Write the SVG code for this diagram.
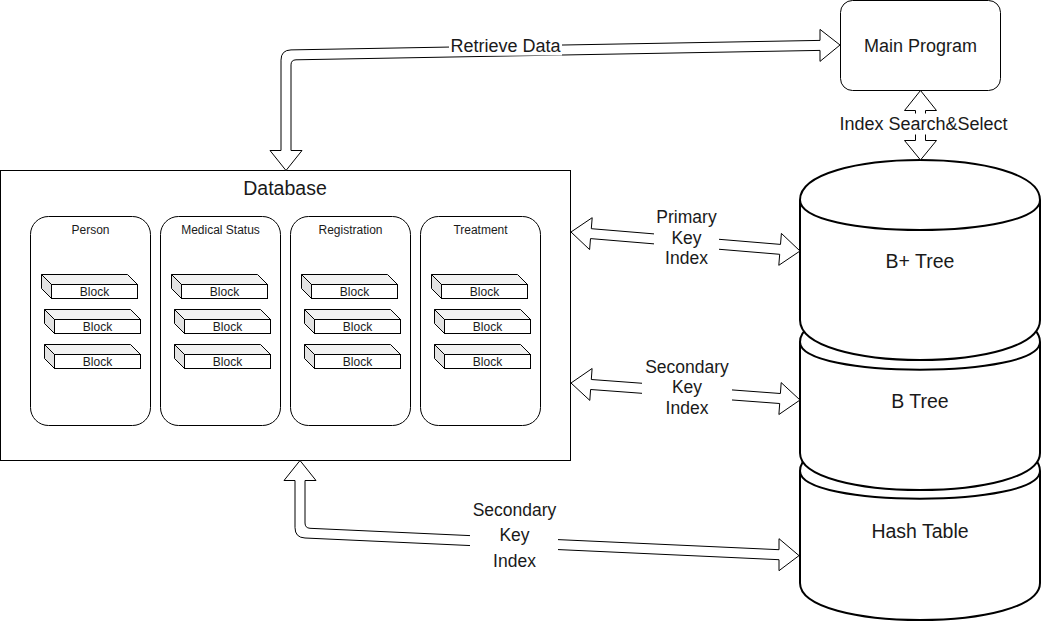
<svg xmlns="http://www.w3.org/2000/svg" xmlns:xlink="http://www.w3.org/1999/xlink" width="1042" height="622" viewBox="0 0 1042 622">
<style>
text{font-family:"Liberation Sans",Arial,sans-serif;fill:#1a1a1a;text-anchor:middle}
.box{fill:#fff;stroke:#000;stroke-width:1}
.cyl{fill:#fff;stroke:#000;stroke-width:2}
.cylin{fill:none;stroke:#000;stroke-width:2}
.arr{fill:#fff;stroke:#000;stroke-width:1;stroke-linejoin:miter}
.bg{fill:#fff;stroke:none}
.sm{font-size:12px}
.lbl{font-size:17.5px}
.big{font-size:19.5px}
</style>
<defs>
<g id="blk">
<path d="M0,0 L86,0 L96,10 L10,10 Z" fill="#f2f2f2" stroke="#000" stroke-width="1"/>
<path d="M0,0 L10,10 L10,24 L0,14 Z" fill="#e3e3e3" stroke="#000" stroke-width="1"/>
<rect x="10" y="10" width="86" height="14" fill="#fff" stroke="#000" stroke-width="1"/>
</g>
</defs>

<g id="main-program">
<rect class="box" x="840.5" y="0.5" width="160" height="90" rx="12" ry="12"/>
<text x="920.5" y="51.5" style="font-size:18px">Main Program</text>
</g>

<g id="database">
<rect class="box" x="0.5" y="170.5" width="570" height="290"/>
<text class="big" x="285" y="195">Database</text>
</g>

<g id="person">
<rect class="box" x="30.5" y="216.5" width="120" height="209" rx="18" ry="18"/>
<text class="sm" x="90.5" y="234">Person</text>
<use xlink:href="#blk" x="41.5" y="274.5"/>
<text class="sm" x="94.5" y="296">Block</text>
<use xlink:href="#blk" x="44.5" y="309.5"/>
<text class="sm" x="97.5" y="331">Block</text>
<use xlink:href="#blk" x="44.5" y="344.5"/>
<text class="sm" x="97.5" y="366">Block</text>
</g>

<g id="medical-status">
<rect class="box" x="160.5" y="216.5" width="120" height="209" rx="18" ry="18"/>
<text class="sm" x="220.5" y="234">Medical Status</text>
<use xlink:href="#blk" x="171.5" y="274.5"/>
<text class="sm" x="224.5" y="296">Block</text>
<use xlink:href="#blk" x="174.5" y="309.5"/>
<text class="sm" x="227.5" y="331">Block</text>
<use xlink:href="#blk" x="174.5" y="344.5"/>
<text class="sm" x="227.5" y="366">Block</text>
</g>

<g id="registration">
<rect class="box" x="290.5" y="216.5" width="120" height="209" rx="18" ry="18"/>
<text class="sm" x="350.5" y="234">Registration</text>
<use xlink:href="#blk" x="301.5" y="274.5"/>
<text class="sm" x="354.5" y="296">Block</text>
<use xlink:href="#blk" x="304.5" y="309.5"/>
<text class="sm" x="357.5" y="331">Block</text>
<use xlink:href="#blk" x="304.5" y="344.5"/>
<text class="sm" x="357.5" y="366">Block</text>
</g>

<g id="treatment">
<rect class="box" x="420.5" y="216.5" width="120" height="209" rx="18" ry="18"/>
<text class="sm" x="480.5" y="234">Treatment</text>
<use xlink:href="#blk" x="431.5" y="274.5"/>
<text class="sm" x="484.5" y="296">Block</text>
<use xlink:href="#blk" x="434.5" y="309.5"/>
<text class="sm" x="487.5" y="331">Block</text>
<use xlink:href="#blk" x="434.5" y="344.5"/>
<text class="sm" x="487.5" y="366">Block</text>
</g>

<g id="hash-table">
<path class="cyl" d="M800,471 C800,421.67 1040,421.67 1040,471 L1040,583 C1040,632.33 800,632.33 800,583 Z"/>
<path class="cylin" d="M800,471 C800,508 1040,508 1040,471"/>
<text class="big" x="920" y="538">Hash Table</text>
</g>

<g id="b-tree">
<path class="cyl" d="M800,342 C800,292.67 1040,292.67 1040,342 L1040,453 C1040,502.33 800,502.33 800,453 Z"/>
<path class="cylin" d="M800,342 C800,379 1040,379 1040,342"/>
<text class="big" x="920" y="408">B Tree</text>
</g>

<g id="bplus-tree">
<path class="cyl" d="M800,200 C800,146.67 1040,146.67 1040,200 L1040,320 C1040,373.33 800,373.33 800,320 Z"/>
<path class="cylin" d="M800,200 C800,240 1040,240 1040,200"/>
<text class="big" x="920" y="268">B+ Tree</text>
</g>

<g id="connectors">
<path class="arr" d="M840,45 L820,29.4 L820,40.4 L291,49.9 Q281,50.1 281,60.1 L281,150.5 L270,150.5 L286,170.5 L302,150.5 L291,150.5 L291,64.9 Q291,59.9 296,59.8 L820,50.4 L820,61.4 Z"/>
<rect class="bg" x="449" y="35" width="113" height="20.5"/>
<text x="505.5" y="52.3" style="font-size:18px">Retrieve Data</text>

<path class="arr" d="M920.5,90.5 L936.5,110.5 L925.5,110.5 L925.5,140.5 L936.5,140.5 L920.5,160 L904.5,140.5 L915.5,140.5 L915.5,110.5 L904.5,110.5 Z"/>
<rect class="bg" x="837" y="113.5" width="173" height="21"/>
<text x="923.5" y="130.3" style="font-size:18px">Index Search&amp;Select</text>

<path class="arr" d="M571,232 L592.2,217.7 L591.3,228.7 L780.5,244.4 L781.4,233.4 L800,251 L778.8,265.3 L779.7,254.3 L590.5,238.6 L589.6,249.6 Z"/>
<rect class="bg" x="654" y="206" width="65" height="64"/>
<text class="lbl" x="686.5" y="223">Primary</text>
<text class="lbl" x="686.5" y="244">Key</text>
<text class="lbl" x="686.5" y="264">Index</text>

<path class="arr" d="M571,383 L592.1,368.5 L591.3,379.5 L780.4,393.5 L781.2,382.6 L800,400 L778.9,414.5 L779.7,403.5 L590.6,389.5 L589.8,400.4 Z"/>
<rect class="bg" x="642" y="356" width="90" height="63"/>
<text class="lbl" x="687" y="373">Secondary</text>
<text class="lbl" x="687" y="393">Key</text>
<text class="lbl" x="687" y="414">Index</text>

<path class="arr" d="M300,460.5 L316,480.5 L305,480.5 L305,523 Q305,528 310,528.3 L779,549.7 L779,538.7 L799,555.6 L779,570.7 L779,559.7 L305,538 Q295,537.6 295,527.6 L295,480.5 L284,480.5 Z"/>
<rect class="bg" x="470" y="497" width="88" height="76"/>
<text class="lbl" x="514.5" y="516">Secondary</text>
<text class="lbl" x="514.5" y="541">Key</text>
<text class="lbl" x="514.5" y="567">Index</text>
</g>
</svg>
